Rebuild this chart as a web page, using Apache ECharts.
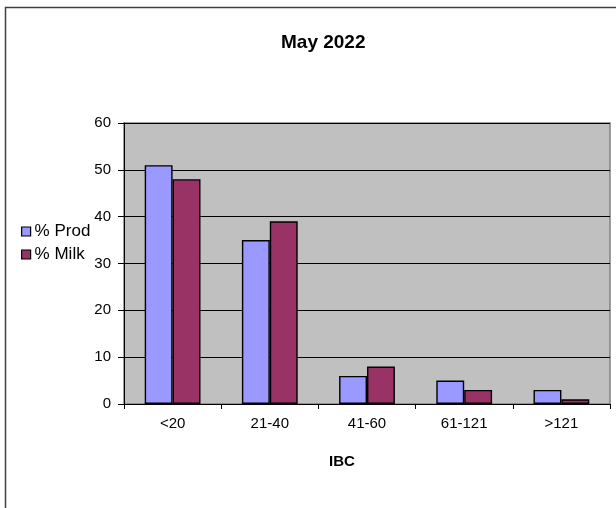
<!DOCTYPE html>
<html>
<head>
<meta charset="utf-8">
<script src="https://cdn.jsdelivr.net/npm/echarts@6/dist/echarts.min.js"></script>
<style>
html,body{margin:0;padding:0;background:#fff;}
#c{width:616px;height:508px;}
</style>
</head>
<body>
<div id="c"></div>
<script>
const categories = ['<20', '21-40', '41-60', '61-121', '>121'];
const prodValues = [51, 35, 6, 5, 3];
const milkValues = [48, 39, 8, 3, 1];
const seriesNames = ['% Prod', '% Milk'];
const chartTitle = 'May 2022';
const xAxisTitle = 'IBC';

const FONT = '"Liberation Sans", Arial, sans-serif';
const chart = echarts.init(document.getElementById('c'), null, {renderer: 'canvas'});
chart.setOption({
  animation: false,
  backgroundColor: '#ffffff',
  textStyle: {fontFamily: FONT},
  title: [
    {text: chartTitle, left: 281, top: 33, padding: 0,
     textStyle: {fontFamily: FONT, fontSize: 19, fontWeight: 'bold', color: '#000'}},
    {text: xAxisTitle, left: 329, top: 454, padding: 0,
     textStyle: {fontFamily: FONT, fontSize: 15, fontWeight: 'bold', color: '#000'}}
  ],
  graphic: [{
    type: 'rect', silent: true, z: -1,
    shape: {x: 5.5, y: 7.5, width: 700, height: 700},
    style: {fill: 'none', stroke: '#404040', lineWidth: 1.5}
  }],
  legend: {
    orient: 'vertical', left: 21, top: 223, padding: 0,
    itemWidth: 9, itemHeight: 9, itemGap: 6,
    icon: 'rect',
    textStyle: {fontFamily: FONT, fontSize: 17, color: '#000', padding: [0, 0, 0, -1]},
    itemStyle: {borderColor: '#000', borderWidth: 1.2},
    data: seriesNames
  },
  grid: {
    left: 124, right: 6, top: 123, bottom: 104,
    show: true, backgroundColor: '#c0c0c0', borderColor: '#808080', borderWidth: 1.5
  },
  xAxis: {
    type: 'category', data: categories,
    axisLine: {lineStyle: {color: '#000', width: 1}},
    axisTick: {show: true, length: 5, lineStyle: {color: '#000'}},
    axisLabel: {fontFamily: FONT, fontSize: 15, color: '#000', margin: 12}
  },
  yAxis: {
    type: 'value', min: 0, max: 60, interval: 10,
    axisLine: {show: true, lineStyle: {color: '#000', width: 1}},
    axisTick: {show: true, length: 6, lineStyle: {color: '#000'}},
    axisLabel: {fontFamily: FONT, fontSize: 15, color: '#000', margin: 13},
    splitLine: {show: true, lineStyle: {color: '#000', width: 1}}
  },
  series: [
    {name: seriesNames[0], type: 'bar', data: prodValues, barGap: '0%', barCategoryGap: '42.6%',
     itemStyle: {color: '#9999ff', borderColor: '#000', borderWidth: 1.4}},
    {name: seriesNames[1], type: 'bar', data: milkValues, barGap: '0%', barCategoryGap: '42.6%',
     itemStyle: {color: '#993366', borderColor: '#000', borderWidth: 1.4}}
  ]
});
</script>
</body>
</html>
